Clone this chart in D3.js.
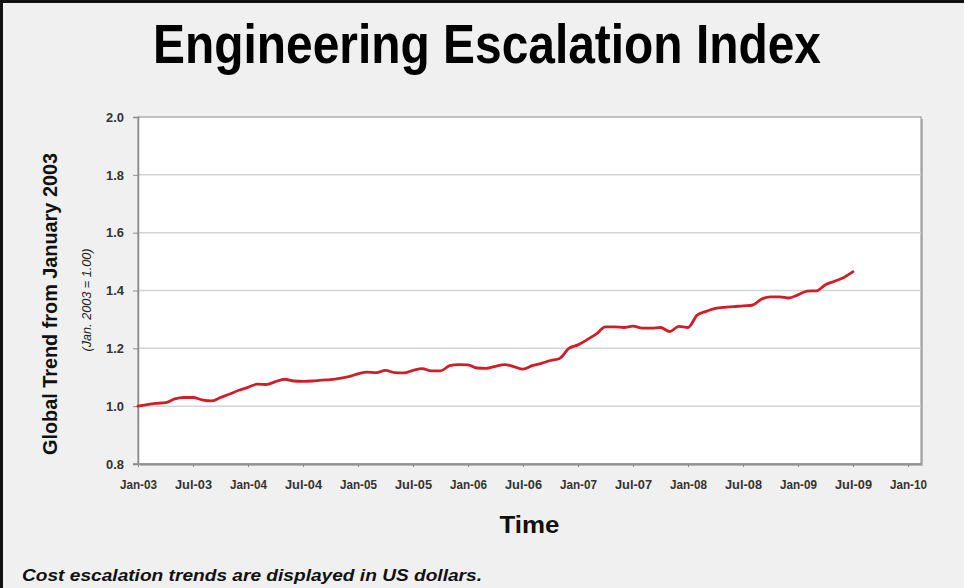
<!DOCTYPE html>
<html>
<head>
<meta charset="utf-8">
<script src="https://cdn.jsdelivr.net/npm/d3@7"></script>
<style>
  html, body { margin: 0; padding: 0; background: #f0f0f0; }
  svg { display: block; }
</style>
</head>
<body>
<svg id="chart" width="964" height="588"></svg>
<script>
// ---- Data ----
const titleText = "Engineering Escalation Index";
const yTitle = "Global Trend from January 2003";
const ySubTitle = "(Jan. 2003 = 1.00)";
const xTitle = "Time";
const footnote = "Cost escalation trends are displayed in US dollars.";

// month index 0 = Jan-03
const xTickValues = [0, 6, 12, 18, 24, 30, 36, 42, 48, 54, 60, 66, 72, 78, 84];
const xTickLabels = ["Jan-03","Jul-03","Jan-04","Jul-04","Jan-05","Jul-05","Jan-06","Jul-06",
                     "Jan-07","Jul-07","Jan-08","Jul-08","Jan-09","Jul-09","Jan-10"];
const yTickValues = [0.8, 1.0, 1.2, 1.4, 1.6, 1.8, 2.0];

// monthly index values Jan-03 .. Jul-09
const indexValues = [
  1.000, 1.005, 1.010, 1.012, 1.025, 1.030, 1.030, 1.022, 1.018, 1.030, 1.042, 1.055,
  1.065, 1.076, 1.075, 1.085, 1.093, 1.087, 1.086, 1.087, 1.090, 1.092, 1.096, 1.102,
  1.112, 1.118, 1.116, 1.124, 1.116, 1.115, 1.124, 1.130, 1.122, 1.122, 1.140, 1.144,
  1.143, 1.132, 1.131, 1.138, 1.144, 1.137, 1.128, 1.140, 1.148, 1.158, 1.165, 1.200,
  1.212, 1.230, 1.250, 1.274, 1.274, 1.272, 1.277, 1.270, 1.270, 1.272, 1.258, 1.276,
  1.272, 1.315, 1.328, 1.338, 1.342, 1.344, 1.347, 1.349, 1.370, 1.378, 1.378, 1.374,
  1.385, 1.398, 1.399, 1.420, 1.432, 1.445, 1.465
];

// ---- Layout ----
const svg = d3.select("#chart");
const W = 964, H = 588;
const plot = { left: 138, top: 117, right: 921, bottom: 464 };

const x = d3.scaleLinear().domain([0, 84]).range([plot.left, 908]);
const y = d3.scaleLinear().domain([0.8, 2.0]).range([plot.bottom, plot.top]);

const font = "'Liberation Sans', Arial, sans-serif";

// background + frame
svg.append("rect").attr("x", 0).attr("y", 0).attr("width", W).attr("height", H).attr("fill", "#f0f0f0");
svg.append("line").attr("x1", 1.5).attr("x2", 1.5).attr("y1", 0).attr("y2", H)
   .attr("stroke", "#111").attr("stroke-width", 3);
svg.append("line").attr("x1", 0).attr("x2", W).attr("y1", 1.5).attr("y2", 1.5)
   .attr("stroke", "#111").attr("stroke-width", 3);

// title
svg.append("text")
  .attr("x", 487).attr("y", 63)
  .attr("text-anchor", "middle")
  .attr("font-family", font)
  .attr("font-weight", "bold")
  .attr("font-size", 56)
  .attr("fill", "#000")
  .attr("textLength", 668).attr("lengthAdjust", "spacingAndGlyphs")
  .text(titleText);

// plot area shadow + white background
svg.append("rect")
  .attr("x", plot.left + 2).attr("y", plot.top + 2)
  .attr("width", plot.right - plot.left).attr("height", plot.bottom - plot.top)
  .attr("fill", "#b8b8b8");
svg.append("rect")
  .attr("x", plot.left).attr("y", plot.top)
  .attr("width", plot.right - plot.left).attr("height", plot.bottom - plot.top)
  .attr("fill", "#fff").attr("stroke", "#8c8c8c").attr("stroke-width", 1);

// gridlines
svg.append("g").selectAll("line")
  .data(yTickValues.filter(v => v > 0.8 && v < 2.0))
  .join("line")
  .attr("x1", plot.left).attr("x2", plot.right)
  .attr("y1", d => y(d)).attr("y2", d => y(d))
  .attr("stroke", "#d4d4d4").attr("stroke-width", 1.5);

// y axis
const yAxis = d3.axisLeft(y).tickValues(yTickValues).tickFormat(d3.format(".1f")).tickSize(5).tickPadding(9);
const gy = svg.append("g").attr("transform", `translate(${plot.left},0)`).call(yAxis);
gy.select(".domain").attr("stroke", "#8c8c8c").attr("stroke-width", 1.5);
gy.selectAll(".tick line").attr("stroke", "#8c8c8c");
gy.selectAll(".tick text")
  .attr("font-family", font).attr("font-weight", "bold")
  .attr("font-size", 13.5).attr("fill", "#333")
  .attr("textLength", 18).attr("lengthAdjust", "spacingAndGlyphs");

// x axis
const xAxis = d3.axisBottom(x).tickValues(xTickValues)
  .tickFormat((d, i) => xTickLabels[i]).tickSize(3).tickPadding(13);
const gx = svg.append("g").attr("transform", `translate(0,${plot.bottom})`).call(xAxis);
gx.select(".domain").remove();
gx.append("line").attr("x1", plot.left - 5).attr("x2", plot.right).attr("y1", 0).attr("y2", 0)
  .attr("stroke", "#8c8c8c").attr("stroke-width", 1.5);
gx.selectAll(".tick line").attr("stroke", "#8c8c8c");
gx.selectAll(".tick text")
  .attr("font-family", font).attr("font-weight", "bold")
  .attr("font-size", 12).attr("fill", "#333")
  .attr("textLength", 37).attr("lengthAdjust", "spacingAndGlyphs");

// line
const line = d3.line().x((d, i) => x(i)).y(d => y(d)).curve(d3.curveMonotoneX);
svg.append("path")
  .datum(indexValues)
  .attr("d", line)
  .attr("fill", "none")
  .attr("stroke", "#cf1e28")
  .attr("stroke-width", 2.8)
  .attr("stroke-linejoin", "round")
  .attr("stroke-linecap", "round");

// axis titles
svg.append("text")
  .attr("transform", `translate(57,304) rotate(-90)`)
  .attr("text-anchor", "middle")
  .attr("font-family", font)
  .attr("font-weight", "bold").attr("font-size", 19.5).attr("fill", "#111")
  .attr("textLength", 302).attr("lengthAdjust", "spacingAndGlyphs")
  .text(yTitle);
svg.append("text")
  .attr("transform", `translate(91,300) rotate(-90)`)
  .attr("text-anchor", "middle")
  .attr("font-family", font)
  .attr("font-style", "italic").attr("font-size", 12).attr("fill", "#222")
  .attr("textLength", 103).attr("lengthAdjust", "spacingAndGlyphs")
  .text(ySubTitle);
svg.append("text")
  .attr("x", (plot.left + plot.right) / 2).attr("y", 533)
  .attr("text-anchor", "middle")
  .attr("font-family", font)
  .attr("font-weight", "bold").attr("font-size", 24).attr("fill", "#111")
  .attr("textLength", 60).attr("lengthAdjust", "spacingAndGlyphs")
  .text(xTitle);

// footnote
svg.append("text")
  .attr("x", 22).attr("y", 581)
  .attr("font-family", font)
  .attr("font-weight", "bold").attr("font-style", "italic")
  .attr("font-size", 17).attr("fill", "#111")
  .attr("textLength", 460).attr("lengthAdjust", "spacingAndGlyphs")
  .text(footnote);
</script>
</body>
</html>
